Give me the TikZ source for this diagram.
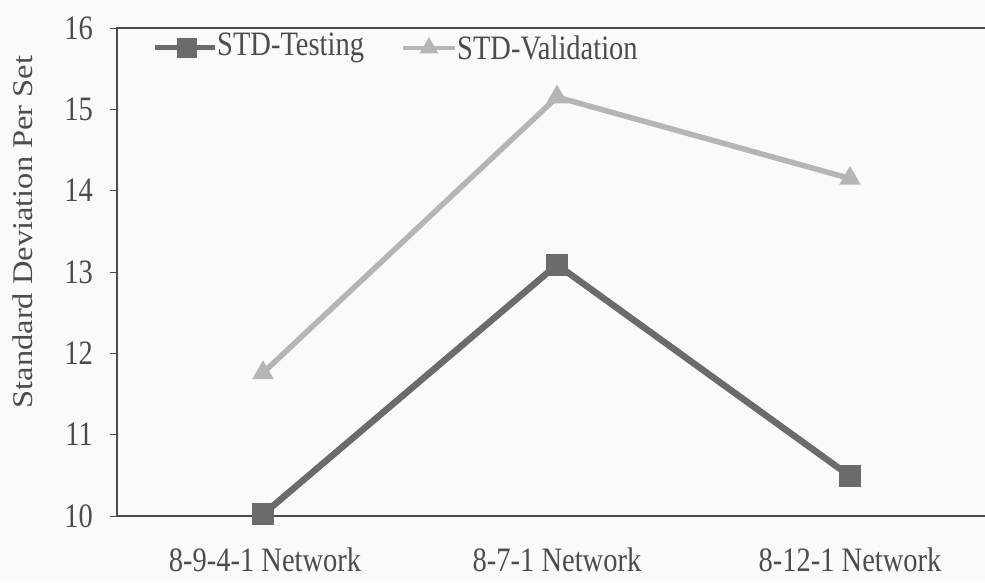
\documentclass[tikz,border=0pt]{standalone}
\usepackage{fontspec}
\setmainfont{Liberation Serif}
\usetikzlibrary{shapes.geometric, calc}

\definecolor{testgray}{gray}{0.42}
\definecolor{validgray}{gray}{0.71}
\definecolor{inkgray}{gray}{0.30}
\newcommand{\tall}[1]{\scalebox{1}[1.2]{#1}}

\begin{document}
\begin{tikzpicture}[
                x=1pt,
                y=1pt,
                font=\fontsize{28.5}{31}\selectfont,
                text=inkgray,
                axisline/.style={draw=inkgray, line width=2.6pt},
                tickmark/.style={draw=inkgray, line width=1pt},
                testline/.style={draw=testgray, line width=6.5pt},
                validline/.style={draw=validgray, line width=5.5pt},
                testmark/.style={rectangle, fill=testgray, minimum size=22pt, inner sep=0pt},
                validmark/.style={regular polygon, regular polygon sides=3,
                    fill=validgray, minimum size=25pt, inner sep=0pt},
                ticklabel/.style={anchor=east, inner sep=0pt},
            ]
            \useasboundingbox[fill=gray!4] (0,0) rectangle (985,582);

            % frame of the plot area
            \coordinate (O) at (117,66);
            \coordinate (N) at (117,554);
            \coordinate (NE) at (985,554);
            \coordinate (SE) at (985,66);
            \draw[axisline] (NE) -- (N) -- (O) -- (SE);

            % y ticks
            \foreach \v in {10,...,16} {
                \coordinate (tk\v) at (110,{66+(\v-10)*81.33});
                \draw[tickmark] (tk\v) -- ++(7,0);
                \node[ticklabel] (lab\v) at (93,{66+(\v-10)*81.33}) {\tall{\v}};
            }

            \node[rotate=90] (ylabel) at (23,350) {\scalebox{1.14}[1]{Standard Deviation Per Set}};

            % categories
            \node (net1) at (265,22) {\tall{8-9-4-1 Network}};
            \node (net2) at (557,22) {\tall{8-7-1 Network}};
            \node (net3) at (850,22) {\tall{8-12-1 Network}};

            % data
            \begin{scope}[shift={(0,66)}, y=81.33pt]
                \coordinate (t1) at (263,0.02);
                \coordinate (t2) at (557,3.09);
                \coordinate (t3) at (850,0.49);
                \coordinate (v1) at (263,1.76);
                \coordinate (v2) at (557,5.15);
                \coordinate (v3) at (850,4.15);
            \end{scope}

            \draw[validline] (v1) -- (v2) -- (v3);
            \draw[testline] (t1) -- (t2) -- (t3);
            \foreach \i in {1,2,3} {
                \node[validmark] (V\i) at (v\i) {};
                \node[testmark] (T\i) at (t\i) {};
            }

            % legend
            \coordinate (la) at (155,534);
            \coordinate (lb) at (215,534);
            \coordinate (lc) at (403,534);
            \coordinate (ld) at (455,534);
            \draw[testline, line width=5pt] (la) -- (lb);
            \node[testmark, minimum size=20pt] (legT) at ($(la)!0.53!(lb)$) {};
            \node[anchor=west, inner sep=2pt] (legTtext) at (lb) {\tall{STD-Testing}};
            \draw[validline, line width=4pt] (lc) -- (ld);
            \node[validmark, minimum size=22pt] (legV) at ($(lc)!0.5!(ld)$) {};
            \node[anchor=west, inner sep=2pt] (legVtext) at (ld) {\tall{STD-Validation}};
        \end{tikzpicture}
\end{document}
